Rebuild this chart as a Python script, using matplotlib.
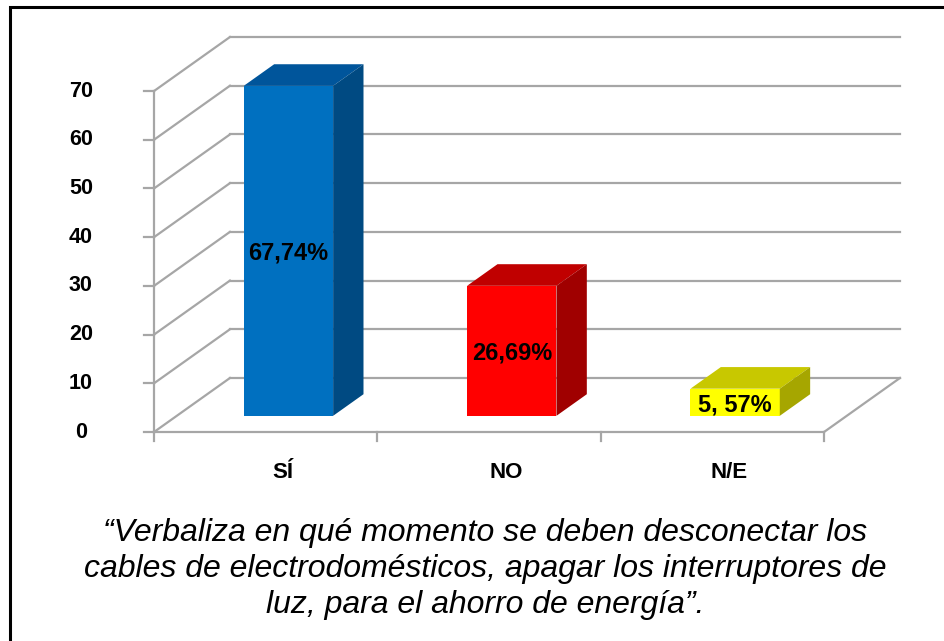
import matplotlib.pyplot as plt
from matplotlib.patches import Polygon, Rectangle

plt.rcParams['font.family'] = ['Liberation Sans', 'DejaVu Sans']

categories = ['SÍ', 'NO', 'N/E']
values = [67.74, 26.69, 5.57]
value_labels = ['67,74%', '26,69%', '5, 57%']
yticks = [0, 10, 20, 30, 40, 50, 60, 70]

front_colors = ['#0070C0', '#FF0000', '#FFFF00']
top_colors = ['#00559B', '#C00000', '#C8C800']
side_colors = ['#004A82', '#A00000', '#A6A600']

caption = ("\u201cVerbaliza en qué momento se deben desconectar los\n"
           "cables de electrodomésticos, apagar los interruptores de\n"
           "luz, para el ahorro de energía\u201d.")

# oblique depth of the 3d box, in data units
DX = 0.34
DY = 11.09
grid_col = '#A6A6A6'

fig = plt.figure(figsize=(9.44, 6.41), dpi=100)
ax = fig.add_axes([0, 0, 1, 1])
ax.set_xlim(-0.6896, 3.5373)
ax.set_ylim(-42.9, 88.69)
ax.axis('off')

# walls / gridlines
for v in yticks:
    ax.plot([0, DX], [v, v + DY], color=grid_col, lw=1.6, zorder=1)
    ax.plot([DX, 3 + DX], [v + DY, v + DY], color=grid_col, lw=1.6, zorder=1)
    ax.plot([-0.045, 0], [v, v], color=grid_col, lw=1.6, zorder=1)
    ax.text(-0.327, v, str(v), ha='center', va='center', fontsize=15.5,
            fontweight='bold')
ax.plot([0, 0], [0, 70], color=grid_col, lw=1.6, zorder=1)
ax.plot([0, 3], [0, 0], color=grid_col, lw=1.6, zorder=1)
ax.plot([3, 3 + DX], [0, DY], color=grid_col, lw=1.6, zorder=1)
for i in range(4):
    ax.plot([i, i], [0, -1.85], color=grid_col, lw=1.6, zorder=1)

# bars
d0, d1 = 0.3, 0.7
w = 0.4
for i, (cat, val) in enumerate(zip(categories, values)):
    x0 = i + 0.5 - w / 2 + d0 * DX
    x1 = x0 + w
    y0 = d0 * DY
    y1 = y0 + val
    ddx = (d1 - d0) * DX
    ddy = (d1 - d0) * DY
    front = Polygon([(x0, y0), (x1, y0), (x1, y1), (x0, y1)], closed=True,
                    facecolor=front_colors[i], edgecolor='none', zorder=3)
    top = Polygon([(x0, y1), (x1, y1), (x1 + ddx, y1 + ddy), (x0 + ddx, y1 + ddy)],
                  closed=True, facecolor=top_colors[i], edgecolor='none', zorder=3)
    side = Polygon([(x1, y0), (x1 + ddx, y0 + ddy), (x1 + ddx, y1 + ddy), (x1, y1)],
                   closed=True, facecolor=side_colors[i], edgecolor='none', zorder=3)
    for p in (front, top, side):
        ax.add_patch(p)
    ax.text((x0 + x1) / 2, (y0 + y1) / 2 - 0.5, value_labels[i], ha='center',
            va='center', fontsize=17, fontweight='bold', zorder=4)
    ax.text(i + 0.5 + 0.075, -8.4, cat, ha='center', va='center',
            fontsize=16, fontweight='bold')

fig.text(0.514, 0.112, caption, ha='center', va='center', fontsize=23,
         style='italic', linespacing=1.27, multialignment='center')

fig.add_artist(Rectangle((10 / 944, -0.05), 1.0, 1 - 7 / 641 + 0.05,
                         transform=fig.transFigure, fill=False,
                         edgecolor='black', lw=2.2))

fig.savefig('out.png', dpi=100)
